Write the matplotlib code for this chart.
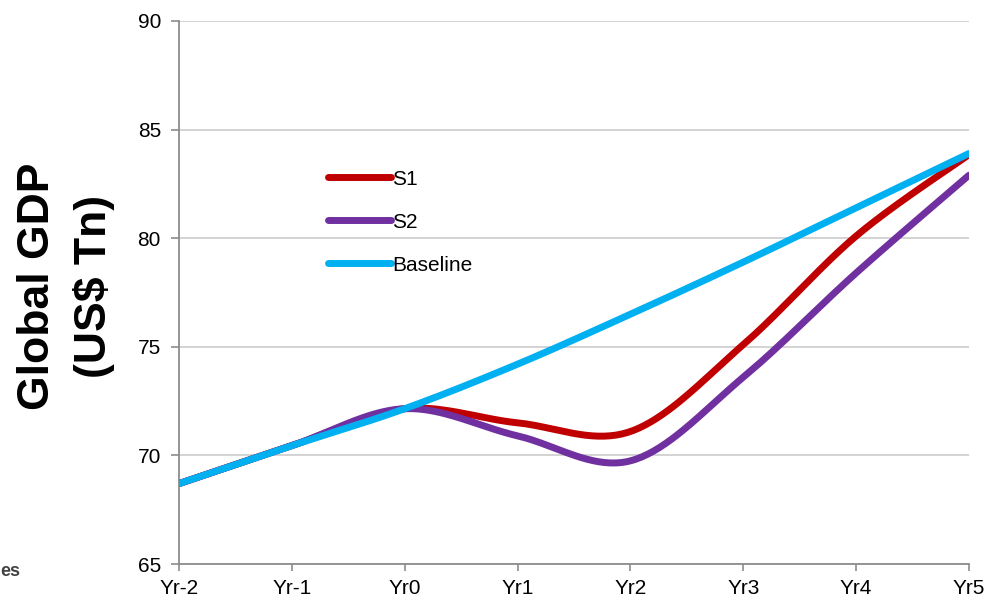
import numpy as np
import matplotlib.pyplot as plt

plt.rcParams['font.family'] = ['Liberation Sans', 'DejaVu Sans']

years = ['Yr-2', 'Yr-1', 'Yr0', 'Yr1', 'Yr2', 'Yr3', 'Yr4', 'Yr5']
s1 = [68.7, 70.45, 72.15, 71.5, 71.1, 75.1, 80.1, 83.85]
s2 = [68.7, 70.45, 72.15, 70.9, 69.75, 73.6, 78.4, 82.9]
baseline = [68.7, 70.45, 72.15, 74.2, 76.5, 78.9, 81.4, 83.9]


def smooth(y, n=40):
    # spreadsheet-style smoothed line: bezier segments with 1/6 tangents
    x = np.arange(len(y), dtype=float)
    y = np.asarray(y, dtype=float)
    pts = np.column_stack([x, y])
    out = []
    t = np.linspace(0, 1, n)[:, None]
    for i in range(len(pts) - 1):
        p0 = pts[max(i - 1, 0)]
        p1 = pts[i]
        p2 = pts[i + 1]
        p3 = pts[min(i + 2, len(pts) - 1)]
        c1 = p1 + (p2 - p0) / 6
        c2 = p2 - (p3 - p1) / 6
        seg = ((1 - t) ** 3) * p1 + 3 * ((1 - t) ** 2) * t * c1 + 3 * (1 - t) * t ** 2 * c2 + t ** 3 * p2
        out.append(seg if i == 0 else seg[1:])
    out = np.vstack(out)
    return out[:, 0], out[:, 1]


fig = plt.figure(figsize=(9.9, 5.94), dpi=100)
ax = fig.add_axes([179 / 990, 1 - 564 / 594, 790 / 990, 543 / 594])

series = [('S1', s1, '#C00000'), ('S2', s2, '#7030A0'), ('Baseline', baseline, '#00B0F0')]
for name, vals, col in series:
    xs, ys = smooth(vals)
    ax.plot(xs, ys, color=col, lw=5, solid_capstyle='round', label=name, zorder=3)

ax.set_xlim(0, len(years) - 1)
ax.set_ylim(65, 90)
ax.set_xticks(range(len(years)))
ax.set_xticklabels(years)
ax.set_yticks([65, 70, 75, 80, 85, 90])
ax.yaxis.grid(True, color='#CCCCCC', lw=1.2)
ax.set_axisbelow(True)

for s in ['top', 'right']:
    ax.spines[s].set_visible(False)
for s in ['left', 'bottom']:
    ax.spines[s].set_color('#8C8C8C')
    ax.spines[s].set_linewidth(1.3)
ax.tick_params(axis='y', length=6, width=1.2, color='#8C8C8C', pad=7, labelsize=15)
ax.tick_params(axis='x', length=5, width=1.2, color='#8C8C8C', pad=6, labelsize=15)

leg = ax.legend(loc='upper left', bbox_to_anchor=(0.189, 0.726), frameon=False,
                fontsize=15, handlelength=3.0, handletextpad=0.08,
                labelspacing=1.15, borderaxespad=0, borderpad=0)

fig.text(0.067, 1 - 286 / 594, 'Global GDP\n(US$ Tn)', rotation=90, ha='center', va='center',
         fontsize=32, fontweight='bold', linespacing=1.45)
fig.text(0.0, 1 - 571 / 594, 'es', fontsize=13, fontweight='bold', color='#222222',
         ha='left', va='center', alpha=0.85)

fig.savefig('out.png', dpi=100)
